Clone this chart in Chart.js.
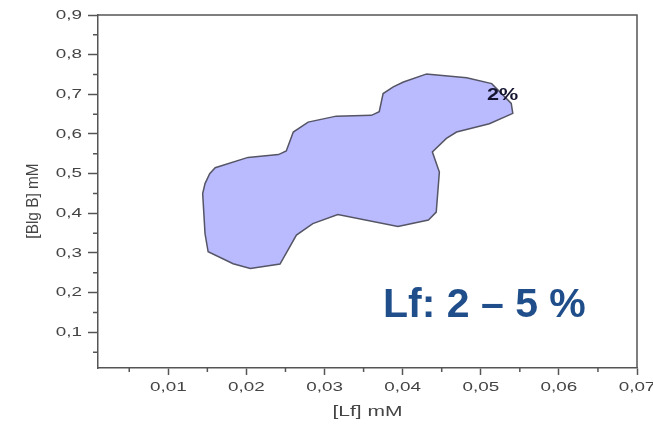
<!DOCTYPE html>
<html>
<head>
<meta charset="utf-8">
<script src="https://cdn.jsdelivr.net/npm/chart.js@4"></script>
<style>
  body { margin: 0; background: #fff; }
  #wrap { width: 653px; height: 424px; }
</style>
</head>
<body>
<div id="wrap"><canvas id="lfChart" width="653" height="424"></canvas></div>
<script>
// outline of the 2% region ([Lf] mM, [Blg B] mM)
const regionLf = [0.0430, 0.0482, 0.0514, 0.0539, 0.0541, 0.0511, 0.0469, 0.0456, 0.0438, 0.0447,
  0.0443, 0.0433, 0.0394, 0.0317, 0.0285, 0.0264, 0.0243, 0.0205, 0.0183, 0.0151,
  0.0147, 0.0144, 0.0147, 0.0153, 0.0160, 0.0202, 0.0241, 0.0251, 0.0260, 0.0279,
  0.0315, 0.0360, 0.0370, 0.0375, 0.0388, 0.0401, 0.0430];
const regionBlg = [0.751, 0.742, 0.727, 0.677, 0.652, 0.626, 0.605, 0.589, 0.555, 0.504,
  0.403, 0.383, 0.367, 0.397, 0.374, 0.345, 0.272, 0.261, 0.273, 0.303,
  0.349, 0.450, 0.475, 0.500, 0.515, 0.541, 0.548, 0.557, 0.605, 0.630,
  0.645, 0.647, 0.656, 0.702, 0.719, 0.731, 0.751];
const xTicks = [0.01, 0.02, 0.03, 0.04, 0.05, 0.06, 0.07];
const yTicks = [0.1, 0.2, 0.3, 0.4, 0.5, 0.6, 0.7, 0.8, 0.9];
const xMinor = [0.005, 0.015, 0.025, 0.035, 0.045, 0.055, 0.065];
const yMinor = [0.05, 0.15, 0.25, 0.35, 0.45, 0.55, 0.65, 0.75, 0.85];
const xTickLabels = ['0,01', '0,02', '0,03', '0,04', '0,05', '0,06', '0,07'];
const yTickLabels = ['0,1', '0,2', '0,3', '0,4', '0,5', '0,6', '0,7', '0,8', '0,9'];
const regionLabel = { x: 0.0528, y: 0.698, text: '2%' };

const axisColor = '#555';
const labelColor = '#444';
const fontFam = '"Liberation Sans", Arial, sans-serif';
const stretch = 1.45; // the original plot is widened, so its text is too

function wideText(ctx, text, x, y, sx, align) {
  ctx.save();
  ctx.translate(x, y);
  ctx.scale(sx, 1);
  ctx.textAlign = align;
  ctx.fillText(text, 0, 0);
  ctx.restore();
}

// minor ticks, top/right frame, tick labels, titles and the text notes
const extras = {
  id: 'extras',
  afterDraw(chart) {
    const ctx = chart.ctx;
    const xs = chart.scales.x, ys = chart.scales.y;
    const a = chart.chartArea;
    ctx.save();
    ctx.strokeStyle = axisColor;
    ctx.lineWidth = 1.5;
    ctx.beginPath();
    ctx.moveTo(a.left, a.top);
    ctx.lineTo(a.right, a.top);
    ctx.lineTo(a.right, a.bottom);
    xMinor.forEach(v => {
      const px = xs.getPixelForValue(v);
      ctx.moveTo(px, a.bottom);
      ctx.lineTo(px, a.bottom + 4);
    });
    yMinor.forEach(v => {
      const py = ys.getPixelForValue(v);
      ctx.moveTo(a.left, py);
      ctx.lineTo(a.left - 5, py);
    });
    ctx.stroke();

    ctx.fillStyle = labelColor;
    ctx.textBaseline = 'middle';
    ctx.font = '13px ' + fontFam;
    xTicks.forEach((v, i) => wideText(ctx, xTickLabels[i], xs.getPixelForValue(v), a.bottom + 19, stretch, 'center'));
    yTicks.forEach((v, i) => wideText(ctx, yTickLabels[i], a.left - 16, ys.getPixelForValue(v), stretch, 'right'));

    ctx.font = '14px ' + fontFam;
    wideText(ctx, '[Lf] mM', (a.left + a.right) / 2, 412, 1.5, 'center');
    ctx.save();
    ctx.translate(33, 201);
    ctx.rotate(-Math.PI / 2);
    ctx.scale(1.1, 1.2);
    ctx.textAlign = 'center';
    ctx.font = '14px ' + fontFam;
    ctx.fillText('[Blg B] mM', 0, 0);
    ctx.restore();

    ctx.fillStyle = '#141430';
    ctx.font = 'bold 16px ' + fontFam;
    wideText(ctx, regionLabel.text, xs.getPixelForValue(regionLabel.x), ys.getPixelForValue(regionLabel.y), 1.35, 'center');

    ctx.fillStyle = '#1f4e8a';
    ctx.font = 'bold 41px ' + fontFam;
    ctx.textAlign = 'left';
    ctx.fillText('Lf: 2 \u2013 5 %', 383, 306);
    ctx.restore();
  }
};

new Chart(document.getElementById('lfChart'), {
  type: 'scatter',
  data: {
    datasets: [{
      label: '2%',
      data: regionLf.map((x, i) => ({ x: x, y: regionBlg[i] })),
      showLine: true,
      fill: 'shape',
      backgroundColor: '#babaff',
      borderColor: '#555566',
      borderWidth: 1.5,
      pointRadius: 0,
      tension: 0
    }]
  },
  options: {
    responsive: false,
    animation: false,
    layout: { padding: { top: 15, right: 16, left: 0, bottom: 0 } },
    plugins: { legend: { display: false }, tooltip: { enabled: false } },
    scales: {
      x: {
        type: 'linear',
        min: 0.001,
        max: 0.07,
        afterBuildTicks: s => { s.ticks = xTicks.map(v => ({ value: v })); },
        afterFit: s => { s.height = 56; },
        border: { color: axisColor, width: 1.5 },
        grid: { drawOnChartArea: false, drawTicks: true, tickLength: 7, color: axisColor, tickWidth: 1.5 },
        ticks: { display: false }
      },
      y: {
        type: 'linear',
        min: 0.01,
        max: 0.9,
        afterBuildTicks: s => { s.ticks = yTicks.map(v => ({ value: v })); },
        afterFit: s => { s.width = 98; },
        border: { color: axisColor, width: 1.5 },
        grid: { drawOnChartArea: false, drawTicks: true, tickLength: 10, color: axisColor, tickWidth: 1.5 },
        ticks: { display: false }
      }
    }
  },
  plugins: [extras]
});
</script>
</body>
</html>
